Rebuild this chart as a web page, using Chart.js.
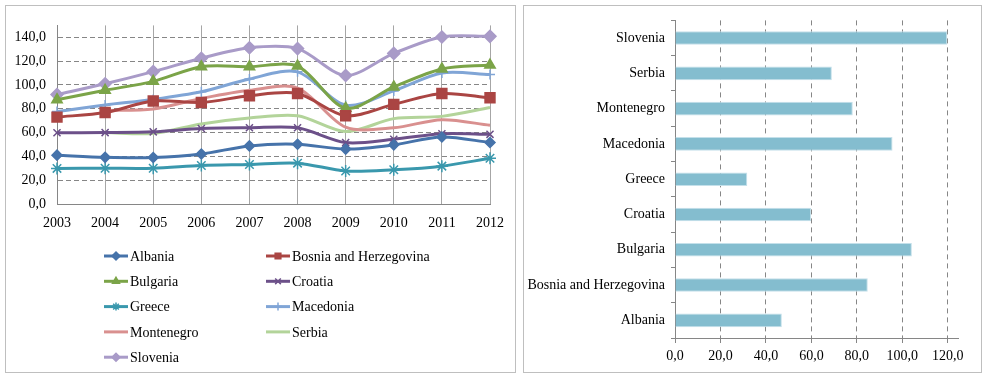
<!DOCTYPE html>
<html>
<head>
<meta charset="utf-8">
<script src="https://cdn.jsdelivr.net/npm/chart.js@4"></script>
<style>
  body { margin: 0; background: #fff; }
  .panel { position: absolute; top: 5px; border: 1px solid #bfbfbf; }
  #leftBox { left: 5px; width: 509px; height: 366px; }
  #rightBox { left: 523px; width: 457px; height: 366px; }
</style>
</head>
<body>
<div class="panel" id="leftBox"><canvas id="lineChart"></canvas></div>
<div class="panel" id="rightBox"><canvas id="barChart"></canvas></div>
<script>
var years = ['2003', '2004', '2005', '2006', '2007', '2008', '2009', '2010', '2011', '2012'];
var albania    = [41.0, 39.2, 39.0, 42.0, 48.8, 50.2, 46.1, 49.7, 56.3, 51.6];
var bosnia     = [73.0, 76.8, 86.5, 85.3, 90.9, 92.8, 74.1, 83.7, 92.8, 89.2];
var bulgaria   = [87.6, 95.5, 103.0, 115.3, 115.3, 115.8, 80.5, 98.3, 113.4, 116.7];
var croatia    = [59.8, 60.0, 60.6, 63.4, 64.0, 64.0, 51.6, 54.4, 59.0, 58.5];
var greece     = [29.9, 30.0, 30.0, 32.4, 33.2, 34.3, 27.7, 28.8, 31.8, 38.4];
var macedonia  = [77.7, 83.2, 87.8, 94.2, 105.0, 111.0, 83.0, 95.0, 110.0, 108.7];
var montenegro = [null, 78.5, 79.8, 88.6, 95.5, 97.4, 64.5, 64.0, 70.8, 66.1];
var serbia     = [null, 60.0, 59.3, 67.2, 72.2, 74.1, 60.8, 71.7, 73.6, 81.0];
var slovenia   = [91.9, 101.0, 111.2, 122.4, 131.2, 130.5, 107.9, 126.5, 140.3, 140.8];

var countries = ['Albania', 'Bosnia and Herzegovina', 'Bulgaria', 'Croatia', 'Greece',
                 'Macedonia', 'Montenegro', 'Serbia', 'Slovenia'];
var countryValues = [47.0, 84.8, 104.2, 59.9, 31.8, 95.7, 78.2, 69.0, 119.8];

var lineTicks = [0, 20, 40, 60, 80, 100, 120, 140];
var barTicks = [0, 20, 40, 60, 80, 100, 120];

var serif = '"Liberation Serif", "Times New Roman", serif';
var tickFont = { family: serif, size: 14 };

function commaFmt(v) {
    return Number(v).toFixed(1).replace('.', ',');
}

function series(label, data, color, style, radius) {
    return {
        label: label,
        data: data,
        borderColor: color,
        backgroundColor: color,
        pointBackgroundColor: color,
        pointBorderColor: color,
        pointBorderWidth: 1.5,
        pointStyle: style,
        pointRadius: radius,
        borderWidth: 3,
        fill: false,
        tension: 0.3
    };
}

// two-column legend under the line chart
var gridLegend = {
    id: 'gridLegend',
    afterDraw: function(chart) {
        var ctx = chart.ctx;
        ctx.save();
        ctx.font = '14px ' + serif;
        ctx.textBaseline = 'middle';
        chart.data.datasets.forEach(function(ds, i) {
            var x = (i % 2) ? 260 : 98;
            var y = 250 + Math.floor(i / 2) * 25.3;
            ctx.strokeStyle = ds.borderColor;
            ctx.fillStyle = ds.borderColor;
            ctx.lineWidth = 3;
            ctx.beginPath();
            ctx.moveTo(x, y);
            ctx.lineTo(x + 24, y);
            ctx.stroke();
            if (ds.pointRadius) {
                ctx.lineWidth = 1.5;
                Chart.helpers.drawPoint(ctx, {
                    pointStyle: ds.pointStyle, radius: 4, borderWidth: 1.5, rotation: 0
                }, x + 12, y);
            }
            ctx.fillStyle = '#000';
            ctx.fillText(ds.label, x + 26, y + 1);
        });
        ctx.restore();
    }
};

new Chart(document.getElementById('lineChart'), {
    type: 'line',
    data: {
        labels: years,
        datasets: [
            series('Albania', albania, '#4673aa', 'rectRot', 5),
            series('Bosnia and Herzegovina', bosnia, '#aa4543', 'rect', 7),
            series('Bulgaria', bulgaria, '#7ba448', 'triangle', 6),
            series('Croatia', croatia, '#6c5089', 'crossRot', 5),
            series('Greece', greece, '#3a98ad', 'star', 6),
            series('Macedonia', macedonia, '#80a5d6', 'cross', 5),
            series('Montenegro', montenegro, '#d9908f', 'line', 0),
            series('Serbia', serbia, '#b3d49a', 'line', 0),
            series('Slovenia', slovenia, '#a99bc8', 'rectRot', 6)
        ]
    },
    options: {
        responsive: true,
        maintainAspectRatio: false,
        animation: false,
        layout: { padding: { top: 16, right: 23, bottom: 142, left: 0 } },
        scales: {
            x: {
                offset: false,
                grid: { color: '#a6a6a6', drawTicks: false },
                border: { color: '#868686' },
                ticks: { font: tickFont, color: '#000', padding: 11, maxRotation: 0 },
                afterFit: function(s) { s.height = 26; }
            },
            y: {
                min: 0,
                max: 150,
                afterBuildTicks: function(s) {
                    s.ticks = lineTicks.map(function(v) { return { value: v }; });
                },
                ticks: { font: tickFont, color: '#000', padding: 11, callback: commaFmt },
                grid: { color: '#868686', drawTicks: false },
                border: { color: '#868686', dash: [5, 3] },
                afterFit: function(s) { s.width = 51; }
            }
        },
        plugins: {
            legend: { display: false },
            tooltip: { enabled: false }
        }
    },
    plugins: [gridLegend]
});

new Chart(document.getElementById('barChart'), {
    type: 'bar',
    data: {
        labels: countries,
        datasets: [{
            label: 'Countries',
            data: countryValues,
            backgroundColor: '#84bdcf',
            borderColor: '#c4e0ea',
            borderWidth: 1,
            barPercentage: 0.385,
            categoryPercentage: 1
        }]
    },
    options: {
        indexAxis: 'y',
        responsive: true,
        maintainAspectRatio: false,
        animation: false,
        layout: { padding: { top: 12, right: 23, bottom: 4, left: 0 } },
        scales: {
            x: {
                min: 0,
                max: 124.5,
                afterBuildTicks: function(s) {
                    s.ticks = barTicks.map(function(v) { return { value: v }; });
                },
                ticks: { font: tickFont, color: '#000', padding: 5, callback: commaFmt, maxRotation: 0 },
                grid: { color: '#868686', tickColor: '#868686', tickLength: 5, tickBorderDash: [] },
                border: { color: '#868686', dash: [5, 4] },
                afterFit: function(s) { s.height = 30; }
            },
            y: {
                reverse: true,
                grid: { drawOnChartArea: false, offset: true, tickLength: 4, color: '#868686' },
                border: { color: '#868686' },
                ticks: { font: tickFont, color: '#000', padding: 6 },
                afterFit: function(s) { s.width = 151; }
            }
        },
        plugins: {
            legend: { display: false },
            tooltip: { enabled: false }
        }
    }
});
</script>
</body>
</html>
